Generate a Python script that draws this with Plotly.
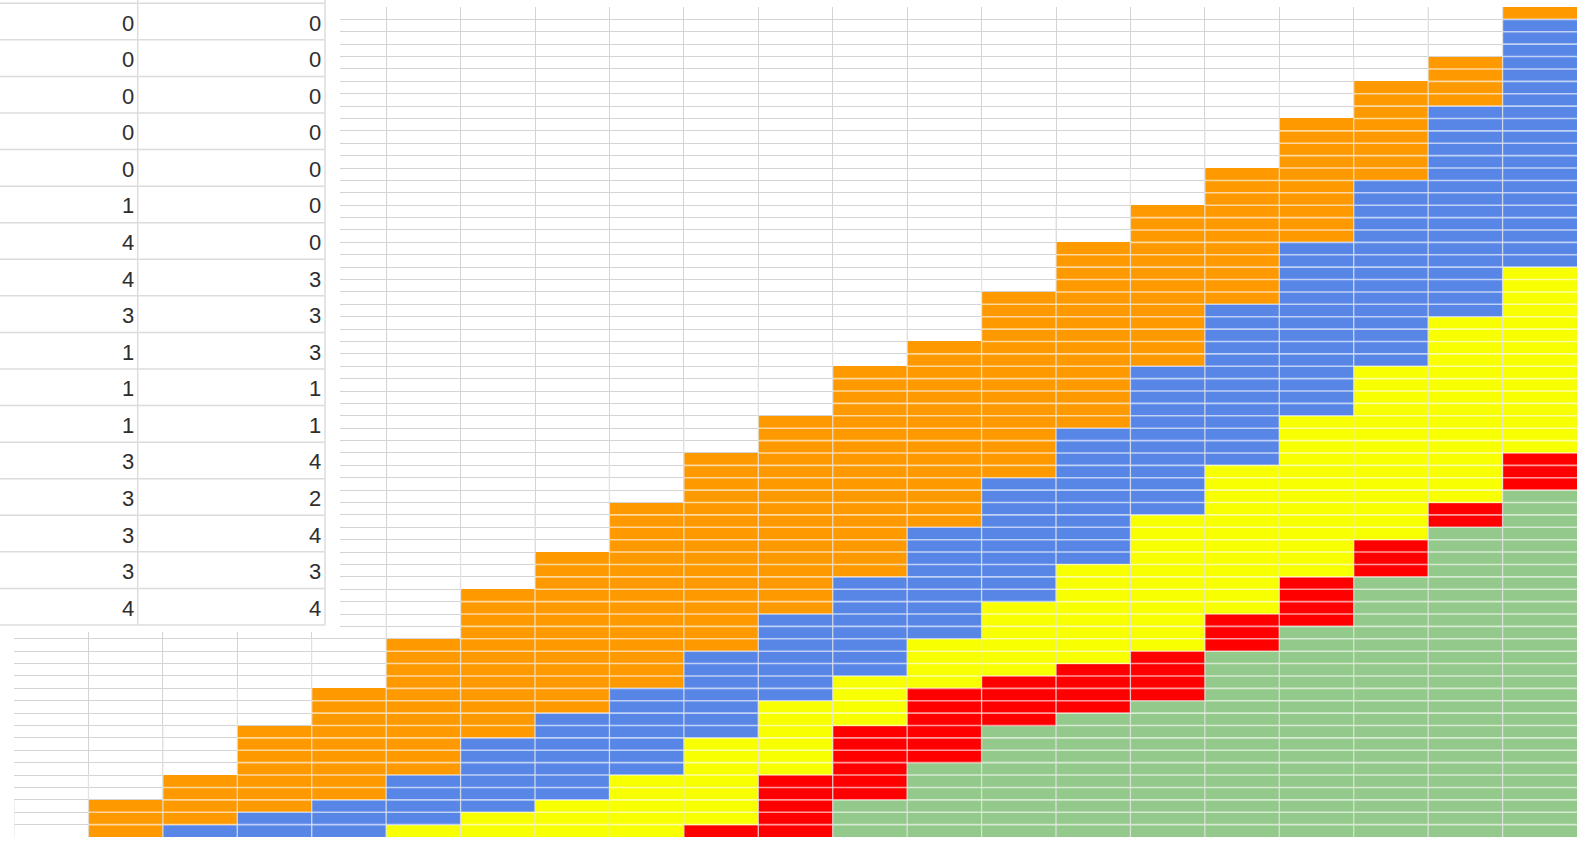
import plotly.graph_objects as go

# ---- data ----
categories = list(range(1, 21))
green  = [0, 0, 0, 0, 0, 0, 0, 0, 0, 0, 3, 6, 9, 10, 11, 15, 17, 21, 25, 28]
red    = [0, 0, 0, 0, 0, 0, 0, 0, 1, 5, 6, 6, 4, 4, 4, 3, 4, 3, 2, 3]
yellow = [0, 0, 0, 0, 1, 2, 3, 5, 7, 6, 4, 4, 6, 8, 11, 12, 13, 14, 15, 15]
blue   = [0, 1, 2, 3, 4, 6, 7, 7, 7, 7, 8, 9, 10, 11, 12, 13, 14, 15, 17, 20]
orange = [3, 4, 7, 9, 11, 12, 13, 15, 16, 16, 17, 15, 15, 15, 13, 11, 10, 8, 4, 1]

table_col_a = [0, 0, 0, 0, 0, 1, 4, 4, 3, 1, 1, 1, 3, 3, 3, 3, 4]
table_col_b = [0, 0, 0, 0, 0, 0, 0, 3, 3, 3, 1, 1, 4, 2, 4, 3, 4]

W, H = 1585, 841
Y_MAX = 67

series = [
    ("green", green, "#93c98a"),
    ("red", red, "#ff0000"),
    ("yellow", yellow, "#f7ff00"),
    ("blue", blue, "#5886e6"),
    ("orange", orange, "#ff9900"),
]

fig = go.Figure()
for name, vals, col in series:
    fig.add_trace(go.Bar(x=categories, y=vals, name=name,
                         marker=dict(color=col, line=dict(width=0))))

totals = [g + r + y + b + o for g, r, y, b, o in zip(green, red, yellow, blue, orange)]

def px_x(p):
    return p / W

def px_y(p):
    return 1 - p / H

shapes = []
# light unit lines drawn over each bar
for c, tot in zip(categories, totals):
    for k in range(1, tot):
        shapes.append(dict(type="line", xref="x", yref="y", x0=c - 0.5, x1=c + 0.5, y0=k, y1=k,
                           line=dict(color="rgba(255,255,255,0.62)", width=1.6), layer="above"))
# light vertical separators over the bars
padded = [0] + totals + [0]
for i in range(len(padded) - 1):
    top = max(padded[i], padded[i + 1])
    if top > 0:
        xv = i - 0.5
        shapes.append(dict(type="line", xref="x", yref="y", x0=xv, x1=xv, y0=0, y1=top,
                           line=dict(color="rgba(228,228,228,0.85)", width=1.3), layer="above"))

# spreadsheet block covering the top-left corner
shapes.append(dict(type="rect", xref="paper", yref="paper",
                   x0=px_x(-5), x1=px_x(340), y0=px_y(632), y1=px_y(-5),
                   fillcolor="white", line=dict(width=0), layer="above"))
row_top = 3.3
row_h = 36.57
n_rows = len(table_col_a)
for r in range(n_rows + 1):
    yy = row_top + r * row_h
    shapes.append(dict(type="line", xref="paper", yref="paper",
                       x0=px_x(0), x1=px_x(325), y0=px_y(yy), y1=px_y(yy),
                       line=dict(color="#dcdcdc", width=1.5), layer="above"))
for xx in (137.7, 325):
    shapes.append(dict(type="line", xref="paper", yref="paper",
                       x0=px_x(xx), x1=px_x(xx), y0=px_y(0), y1=px_y(row_top + n_rows * row_h),
                       line=dict(color="#dcdcdc", width=1.5), layer="above"))

annotations = []
for r in range(n_rows):
    yc = row_top + (r + 0.5) * row_h + 1.5
    for xr, vals in ((136, table_col_a), (323, table_col_b)):
        annotations.append(dict(xref="paper", yref="paper", x=px_x(xr), y=px_y(yc),
                                text=str(vals[r]), showarrow=False,
                                xanchor="right", yanchor="middle",
                                font=dict(family="Liberation Sans, Arial", size=22, color="#2e2e2e")))

fig.update_layout(
    width=W, height=H,
    margin=dict(l=0, r=0, t=0, b=0),
    paper_bgcolor="white", plot_bgcolor="white",
    barmode="stack", bargap=0, showlegend=False,
    xaxis=dict(domain=[14 / W, 1577 / W], range=[-0.5, 20.5],
               tickvals=[k - 0.5 for k in range(22)], showticklabels=False,
               showgrid=True, gridcolor="#d4d4d4", gridwidth=1, zeroline=False,
               showline=False, ticks=""),
    yaxis=dict(domain=[4 / H, 1 - 7 / H], range=[0, Y_MAX], dtick=1,
               showticklabels=False, showgrid=True, gridcolor="#d4d4d4", gridwidth=1,
               zeroline=False, showline=False, ticks=""),
    shapes=shapes,
    annotations=annotations,
)

fig.write_html("out.html")
